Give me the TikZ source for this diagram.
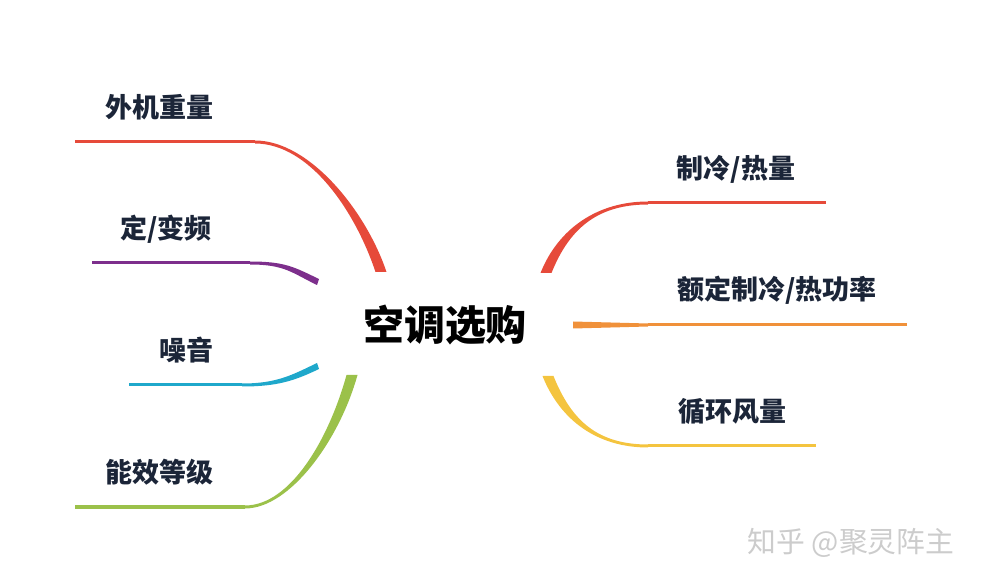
\documentclass[tikz,border=0pt]{standalone}
\usepackage{fontspec}
\setmainfont{Noto Sans CJK SC}
\usetikzlibrary{calc,positioning}
\definecolor{ink}{HTML}{1B2538}
\definecolor{cred}{HTML}{E64A3A}
\definecolor{cpurple}{HTML}{7D2F8C}
\definecolor{ccyan}{HTML}{1FA8CB}
\definecolor{cgreen}{HTML}{9BC14A}
\definecolor{corange}{HTML}{F0913A}
\definecolor{cyellow}{HTML}{F4C43F}

\begin{document}
\begin{tikzpicture}[x=0.5pt,y=-0.5pt]
\tikzset{lbl/.style={text=ink,inner sep=0pt,font=\fontsize{13.5}{16}\selectfont\bfseries}}
\tikzset{twig/.style={line width=1.5pt}}
\useasboundingbox (0,0) rectangle (982,583);

\node [inner sep=0pt,font=\fontsize{20.5}{24}\selectfont\bfseries] (hub) at (445,325) {空调选购};

\begin{scope}[every node/.style={lbl}]
\node (L1) at (159,107) {外机重量};
\node (L2) at (166,229) {定/变频};
\node (L3) at (186,350) {噪音};
\node (L4) at (159,472) {能效等级};
\node (R1) at (736,169) {制冷/热量};
\node (R2) at (777,290) {额定制冷/热功率};
\node (R3) at (732,411) {循环风量};
\end{scope}

\coordinate (L1a) at (75,142);  \coordinate (L1b) at (255,142); \coordinate (L1c) at (381,272);
\coordinate (L2a) at (92,263);  \coordinate (L2b) at (250,263); \coordinate (L2c) at (318,282);
\coordinate (L3a) at (129,385); \coordinate (L3b) at (242,385); \coordinate (L3c) at (318,366);
\coordinate (L4a) at (75,507);  \coordinate (L4b) at (245,507); \coordinate (L4c) at (352,375);
\coordinate (R1a) at (826,203); \coordinate (R1b) at (648,203); \coordinate (R1c) at (546,273);
\coordinate (R2a) at (907,325); \coordinate (R2b) at (648,325); \coordinate (R2c) at (573,325);
\coordinate (R3a) at (816,446); \coordinate (R3b) at (648,446); \coordinate (R3c) at (548,376);

\draw[twig,cred] (L1a) -- (L1b);
\fill[cred] ($(L1b)+(0,-1.5)$) .. controls +(55,0) and +(-20,-60) .. ($(L1c)+(5.5,0)$) -- ($(L1c)+(-5.5,0)$) .. controls +(-20,-60) and +(55,0) .. ($(L1b)+(0,1.5)$) -- cycle;
\draw[twig,cpurple] (L2a) -- (L2b);
\fill[cpurple] ($(L2b)+(0,-1.5)$) .. controls +(35,0) and +(-25,-12) .. ($(L2c)+(1,-3)$) -- ($(L2c)+(-1,3)$) .. controls +(-25,-12) and +(35,0) .. ($(L2b)+(0,1.5)$) -- cycle;
\draw[twig,ccyan] (L3a) -- (L3b);
\fill[ccyan] ($(L3b)+(0,1.5)$) .. controls +(35,0) and +(-25,12) .. ($(L3c)+(1,3)$) -- ($(L3c)+(-1,-3)$) .. controls +(-25,12) and +(35,0) .. ($(L3b)+(0,-1.5)$) -- cycle;
\draw[twig,cgreen] (L4a) -- (L4b);
\fill[cgreen] ($(L4b)+(0,1.5)$) .. controls +(45,0) and +(-18,65) .. ($(L4c)+(5.5,0)$) -- ($(L4c)+(-5.5,0)$) .. controls +(-18,65) and +(45,0) .. ($(L4b)+(0,-1.5)$) -- cycle;

\draw[twig,cred] (R1a) -- (R1b);
\fill[cred] ($(R1b)+(0,-1.5)$) .. controls +(-50,0) and +(18,-45) .. ($(R1c)+(-5.5,0)$) -- ($(R1c)+(5.5,0)$) .. controls +(18,-45) and +(-50,0) .. ($(R1b)+(0,1.5)$) -- cycle;
\draw[twig,corange] (R2a) -- (R2b);
\fill[corange] ($(R2b)+(0,-1.5)$) -- ($(R2c)+(0,-3.5)$) -- ($(R2c)+(0,3.5)$) -- ($(R2b)+(0,1.5)$) -- cycle;
\draw[twig,cyellow] (R3a) -- (R3b);
\fill[cyellow] ($(R3b)+(0,1.5)$) .. controls +(-50,0) and +(18,45) .. ($(R3c)+(-5.5,0)$) -- ($(R3c)+(5.5,0)$) .. controls +(18,45) and +(-50,0) .. ($(R3b)+(0,-1.5)$) -- cycle;

\node [text=black!20,font=\fontsize{14.4}{17}\selectfont] (mark) at (851,543) {知乎 @聚灵阵主};

\end{tikzpicture}
\end{document}
